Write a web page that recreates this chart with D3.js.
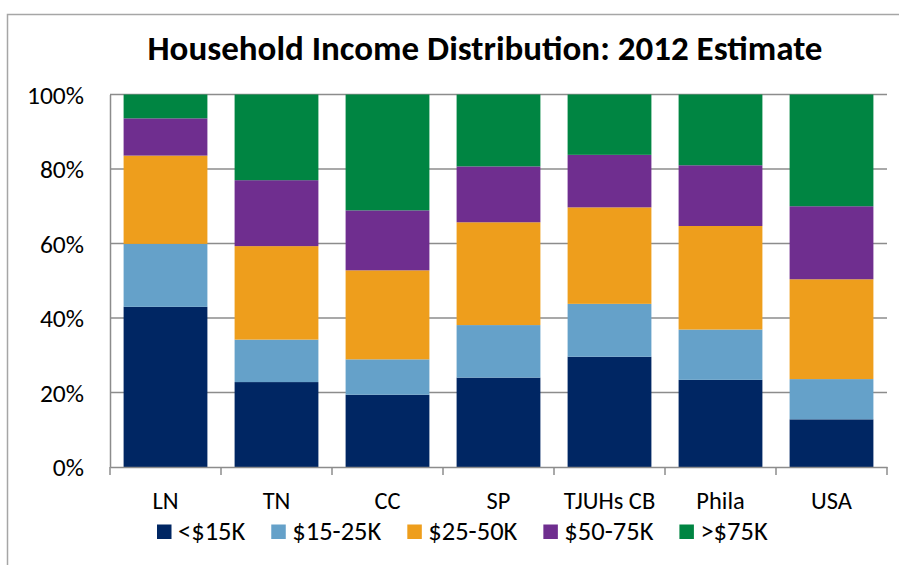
<!DOCTYPE html>
<html><head><meta charset="utf-8">
<script src="https://cdn.jsdelivr.net/npm/d3@7"></script>
<style>
html,body{margin:0;padding:0;background:#fff;}
svg{display:block;}
text{font-family:Carlito,Lato,sans-serif;fill:#000;}
</style></head>
<body>
<svg id="chart" width="899" height="565"></svg>
<script>
const categories = ["LN","TN","CC","SP","TJUHs CB","Phila","USA"];
const seriesNames = ["<$15K","$15-25K","$25-50K","$50-75K",">$75K"];
const under15 = [43.0,22.8,19.4,24.0,29.6,23.4,12.8];
const from15to25 = [16.9,11.4,9.5,14.1,14.2,13.5,10.8];
const from25to50 = [23.7,25.1,23.9,27.6,25.9,27.8,26.8];
const from50to75 = [10.0,17.7,16.1,15.0,14.1,16.3,19.6];
const over75 = [6.4,23.0,31.1,19.3,16.2,19.0,30.0];
const colors = ["#002663","#65a1c9","#ee9e1c","#6f2e8f","#008542"];
const yTicks = [0,20,40,60,80,100];
const title = "Household Income Distribution: 2012 Estimate";

const seriesValues = [under15,from15to25,from25to50,from50to75,over75];
const rows = categories.map((c,i)=>{
  const r={cat:c};
  seriesNames.forEach((s,j)=>r[s]=seriesValues[j][i]);
  return r;
});

const svg = d3.select("#chart");
const m = {left:110, right:887, top:94.5, bottom:467};
const ff = "Carlito,Lato,sans-serif";

// frame
svg.append("rect").attr("x",7.5).attr("y",14.5).attr("width",1000).attr("height",1000)
  .attr("fill","none").attr("stroke","#a6a6a6").attr("stroke-width",1.5);

const x = d3.scaleBand().domain(categories).range([m.left,m.right]).paddingInner(0.245).paddingOuter(0.1225);
const y = d3.scaleLinear().domain([0,100]).range([m.bottom,m.top]);

// gridlines
svg.append("g").selectAll("line").data(yTicks.filter(d=>d>0)).join("line")
  .attr("x1",m.left).attr("x2",m.right).attr("y1",d=>y(d)).attr("y2",d=>y(d))
  .attr("stroke","#8c8c8c").attr("stroke-width",1.5);

const stack = d3.stack().keys(seriesNames)(rows);
svg.append("g").selectAll("g").data(stack).join("g")
  .attr("fill",(d,i)=>colors[i])
  .selectAll("rect").data(d=>d).join("rect")
  .attr("x",d=>x(d.data.cat)).attr("width",x.bandwidth())
  .attr("y",d=>y(d[1])).attr("height",d=>y(d[0])-y(d[1]));

// y axis
const ya = svg.append("g").attr("transform",`translate(${m.left},0)`)
  .call(d3.axisLeft(y).tickValues(yTicks).tickFormat(d=>d+"%").tickSize(0).tickPadding(26));
ya.select(".domain").attr("stroke","#8c8c8c").attr("stroke-width",1.5);
ya.selectAll("text").attr("font-size",25.5).attr("fill","#000").attr("dy","0.35em").style("font-family",ff);

// x axis
const xa = svg.append("g").attr("transform",`translate(0,${m.bottom})`)
  .call(d3.axisBottom(x).tickSize(0).tickPadding(0));
xa.select(".domain").attr("stroke","#8c8c8c").attr("stroke-width",1.5);
xa.selectAll("text").attr("font-size",24.5).attr("fill","#000").attr("y",42).attr("dy",0).style("font-family",ff);
const step = x.step();
const bounds = d3.range(categories.length+1).map(i=>m.left+i*step);
svg.append("g").selectAll("line").data(bounds).join("line")
  .attr("x1",d=>d).attr("x2",d=>d).attr("y1",m.bottom).attr("y2",m.bottom+8)
  .attr("stroke","#8c8c8c").attr("stroke-width",1.5);

// title
svg.append("text").attr("x",485).attr("y",60).attr("text-anchor","middle")
  .attr("font-size",35).attr("font-weight","bold").text(title);

// legend
const lg = svg.append("g");
let lx = 157;
seriesNames.forEach((s,i)=>{
  lg.append("rect").attr("x",lx).attr("y",524.5).attr("width",14.5).attr("height",14.5).attr("fill",colors[i]);
  const t = lg.append("text").attr("x",lx+21).attr("y",540).attr("font-size",26.5).text(s);
  const w = t.node().getComputedTextLength();
  lx = lx + 21 + w + 26;
});
</script>
</body></html>
